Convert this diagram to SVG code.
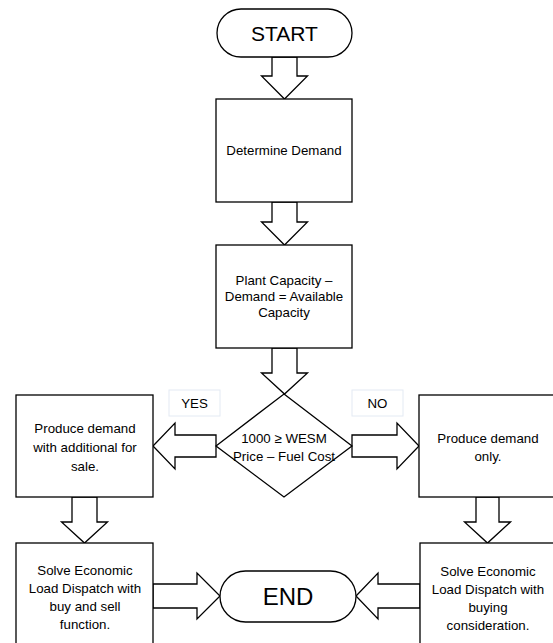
<svg xmlns="http://www.w3.org/2000/svg" width="553" height="643" viewBox="0 0 553 643">
<style>
.s{fill:#fff;stroke:#000;stroke-width:1.3}
.a{fill:#fff;stroke:#000;stroke-width:1.3;stroke-linejoin:miter}
.t{font-family:"Liberation Sans",Arial,sans-serif;font-size:13.3px;fill:#000;text-anchor:middle}
.big{font-family:"Liberation Sans",Arial,sans-serif;fill:#000;text-anchor:middle}
.lb{fill:#fff;stroke:#e3eaf3;stroke-width:1}
</style>
<rect width="553" height="643" fill="#fff"/>
<g id="connectors">
<polygon class="a" points="272,57 297,57 297,76 307.5,76 284.5,99 261.5,76 272,76"/>
<polygon class="a" points="272,202 297,202 297,222 307.5,222 284.5,245 261.5,222 272,222"/>
<polygon class="a" points="272,348 297,348 297,373 307.5,373 284.5,394 261.5,373 272,373"/>
<polygon class="a" points="216,435 175,435 175,423 153,446 175,469 175,457 216,457"/>
<polygon class="a" points="352,435 397,435 397,423 419,446 397,469 397,457 352,457"/>
<polygon class="a" points="72,497 97,497 97,522 107.5,522 84.5,543 61.5,522 72,522"/>
<polygon class="a" points="476,497 499,497 499,522 510.5,522 487.5,543 464.5,522 476,522"/>
<polygon class="a" points="153,584 197,584 197,573 220,596 197,619 197,608 153,608"/>
<polygon class="a" points="420,584 378,584 378,573 356,596 378,619 378,608 420,608"/>
</g>
<g id="start">
<rect class="s" x="217" y="9" width="135" height="48" rx="24" ry="24"/>
<text class="big" x="284.5" y="41" font-size="21">START</text>
</g>
<g id="determine">
<rect class="s" x="216" y="99" width="136" height="103"/>
<text class="t" x="284" y="155">Determine Demand</text>
</g>
<g id="capacity">
<rect class="s" x="216" y="245" width="136" height="103"/>
<text class="t" x="284" y="285">Plant Capacity –</text>
<text class="t" x="284" y="301">Demand = Available</text>
<text class="t" x="284" y="317">Capacity</text>
</g>
<g id="decision">
<polygon class="s" points="284,394 352,446 284,497 216,446"/>
<text class="t" x="284" y="443">1000 ≥ WESM</text>
<text class="t" x="284" y="461">Price – Fuel Cost</text>
</g>
<g id="yes">
<rect class="lb" x="169" y="390" width="51" height="26"/>
<text class="t" x="194.5" y="408" font-size="12.5">YES</text>
</g>
<g id="no">
<rect class="lb" x="352" y="390" width="51" height="26"/>
<text class="t" x="377.5" y="408" font-size="12.5">NO</text>
</g>
<g id="produce-sale">
<rect class="s" x="16" y="395" width="137" height="102"/>
<text class="t" x="85" y="433">Produce demand</text>
<text class="t" x="85" y="452">with additional for</text>
<text class="t" x="85" y="471">sale.</text>
</g>
<g id="produce-only">
<rect class="s" x="419" y="395" width="145" height="102"/>
<text class="t" x="488" y="443">Produce demand</text>
<text class="t" x="488" y="461">only.</text>
</g>
<g id="eld-buysell">
<rect class="s" x="16" y="543" width="137" height="110"/>
<text class="t" x="85" y="575">Solve Economic</text>
<text class="t" x="85" y="593">Load Dispatch with</text>
<text class="t" x="85" y="611">buy and sell</text>
<text class="t" x="85" y="629">function.</text>
</g>
<g id="eld-buying">
<rect class="s" x="420" y="543" width="145" height="110"/>
<text class="t" x="488" y="576">Solve Economic</text>
<text class="t" x="488" y="594">Load Dispatch with</text>
<text class="t" x="488" y="612">buying</text>
<text class="t" x="488" y="630">consideration.</text>
</g>
<g id="end">
<rect class="s" x="220" y="571" width="136" height="51" rx="25.5" ry="25.5"/>
<text class="big" x="288" y="605" font-size="24">END</text>
</g>
</svg>
